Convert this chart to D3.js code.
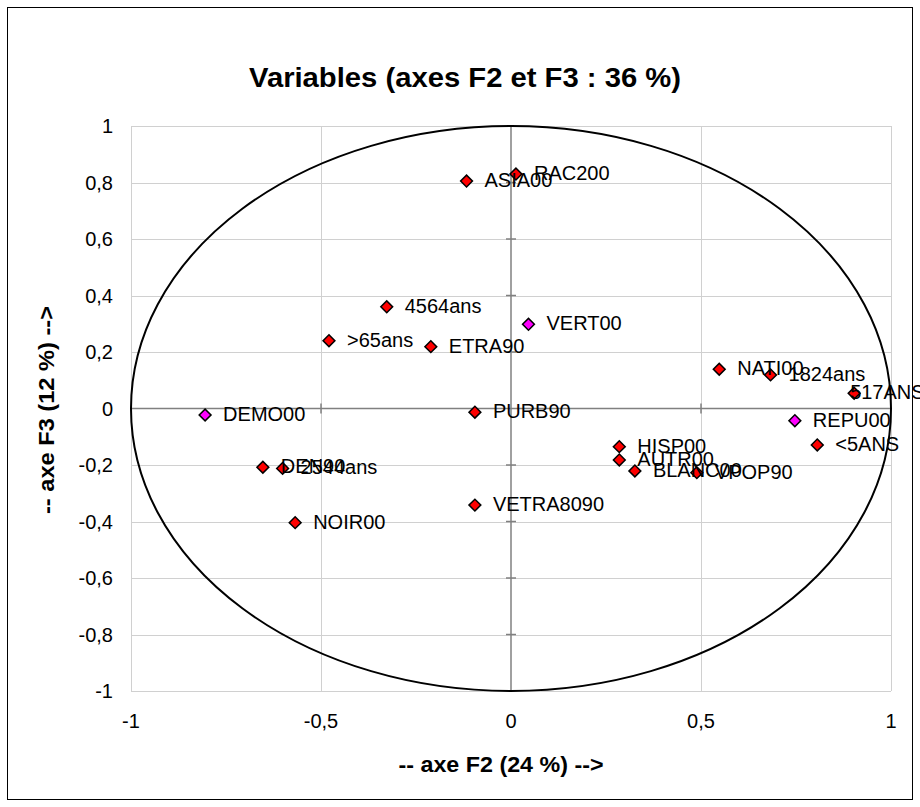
<!DOCTYPE html>
<html>
<head>
<meta charset="utf-8">
<script src="https://cdnjs.cloudflare.com/ajax/libs/d3/7.8.5/d3.min.js"></script>
<style>
  body { margin: 0; background: #fff; }
  text { font-family: "Liberation Sans", Arial, sans-serif; }
</style>
</head>
<body>
<div id="chart"></div>
<script>
// variables projetees sur F2 / F3
const labels = ['RAC200', 'ASIA00', '4564ans', '>65ans', 'ETRA90', 'PURB90', 'VERT00',
    'DEMO00', 'DEN90', '2544ans', 'NOIR00', 'VETRA8090', 'NATI00', '1824ans', '517ANS',
    'REPU00', '<5ANS', 'HISP00', 'AUTR00', 'BLANC00', 'VPOP90'];
const axeF2 = [0.013, -0.117, -0.327, -0.479, -0.211, -0.095, 0.046,
    -0.805, -0.653, -0.601, -0.568, -0.095, 0.548, 0.683, 0.903,
    0.747, 0.806, 0.285, 0.285, 0.326, 0.489];
const axeF3 = [0.830, 0.805, 0.360, 0.240, 0.219, -0.013, 0.298,
    -0.023, -0.208, -0.212, -0.404, -0.342, 0.139, 0.119, 0.054,
    -0.043, -0.129, -0.135, -0.182, -0.221, -0.227];
// 'sup' = variables supplementaires
const groups = ['act', 'act', 'act', 'act', 'act', 'act', 'sup',
    'sup', 'act', 'act', 'act', 'act', 'act', 'act', 'act',
    'sup', 'act', 'act', 'act', 'act', 'act'];
const xTicks = [-1, -0.5, 0, 0.5, 1];
const yTicks = [-1, -0.8, -0.6, -0.4, -0.2, 0, 0.2, 0.4, 0.6, 0.8, 1];

const width = 920, height = 807;
const margin = {top: 126, right: 29, bottom: 116, left: 131};

const svg = d3.select('#chart')
    .append('svg')
    .attr('width', width)
    .attr('height', height);

svg.append('rect')
    .attr('x', 7.5).attr('y', 7.5)
    .attr('width', 905).attr('height', 792)
    .attr('fill', '#fff')
    .attr('stroke', '#000')
    .attr('stroke-width', 1);

const x = d3.scaleLinear().domain([-1, 1]).range([margin.left, width - margin.right]);
const y = d3.scaleLinear().domain([-1, 1]).range([height - margin.bottom, margin.top]);

const fr = d3.formatLocale({decimal: ',', thousands: ' ', grouping: [3], currency: ['', ''], minus: '-'});
const fmt = fr.format('~g');

// grille
const grid = svg.append('g').attr('stroke', '#d0d0d0').attr('stroke-width', 1);
grid.selectAll('.gx')
    .data(xTicks.filter((d) => d !== 0))
    .enter().append('line')
    .attr('x1', (d) => Math.round(x(d)) + 0.5).attr('x2', (d) => Math.round(x(d)) + 0.5)
    .attr('y1', y(-1)).attr('y2', y(1));
grid.selectAll('.gy')
    .data(yTicks.filter((d) => d !== 0))
    .enter().append('line')
    .attr('y1', (d) => Math.round(y(d)) + 0.5).attr('y2', (d) => Math.round(y(d)) + 0.5)
    .attr('x1', x(-1)).attr('x2', x(1));

// axes centraux
const axes = svg.append('g').attr('stroke', '#808080').attr('stroke-width', 1.5);
axes.append('line')
    .attr('x1', x(-1)).attr('x2', x(1))
    .attr('y1', y(0)).attr('y2', y(0));
axes.append('line')
    .attr('x1', x(0)).attr('x2', x(0))
    .attr('y1', y(-1)).attr('y2', y(1));
axes.selectAll('.tx')
    .data(xTicks.filter((d) => Math.abs(d) !== 1 && d !== 0))
    .enter().append('line')
    .attr('x1', (d) => x(d)).attr('x2', (d) => x(d))
    .attr('y1', y(0) - 5).attr('y2', y(0) + 5);
axes.selectAll('.ty')
    .data(yTicks.filter((d) => Math.abs(d) !== 1 && d !== 0))
    .enter().append('line')
    .attr('y1', (d) => y(d)).attr('y2', (d) => y(d))
    .attr('x1', x(0) - 5).attr('x2', x(0) + 5);

// cercle des correlations
svg.append('ellipse')
    .attr('cx', x(0)).attr('cy', y(0))
    .attr('rx', x(1) - x(0)).attr('ry', y(0) - y(1))
    .attr('fill', 'none')
    .attr('stroke', '#000')
    .attr('stroke-width', 2);

// etiquettes des graduations
svg.append('g').selectAll('text')
    .data(xTicks)
    .enter().append('text')
    .attr('x', (d) => x(d))
    .attr('y', y(-1) + 37)
    .attr('text-anchor', 'middle')
    .attr('font-size', 20)
    .attr('fill', '#000')
    .text((d) => fmt(d));
svg.append('g').selectAll('text')
    .data(yTicks)
    .enter().append('text')
    .attr('x', margin.left - 18)
    .attr('y', (d) => y(d) + 7)
    .attr('text-anchor', 'end')
    .attr('font-size', 20)
    .attr('fill', '#000')
    .text((d) => fmt(d));

// points
const pts = labels.map((l, i) => ({label: l, f2: axeF2[i], f3: axeF3[i], g: groups[i]}));
const color = d3.scaleOrdinal().domain(['act', 'sup']).range(['#ff0000', '#ff00ff']);
const diamond = d3.symbol().type(d3.symbolSquare).size(70);

svg.append('g').selectAll('path')
    .data(pts)
    .enter().append('path')
    .attr('d', diamond)
    .attr('transform', (d) => `translate(${x(d.f2)},${y(d.f3)}) rotate(45)`)
    .attr('fill', (d) => color(d.g))
    .attr('stroke', '#000')
    .attr('stroke-width', 1.5);

// l'etiquette de 517ANS a ete deplacee a la main dans l'original
const labelShift = {'517ANS': -22};
svg.append('g').selectAll('text')
    .data(pts)
    .enter().append('text')
    .attr('x', (d) => x(d.f2) + 18 + (labelShift[d.label] || 0))
    .attr('y', (d) => y(d.f3) + 6)
    .attr('font-size', 20)
    .attr('fill', '#000')
    .text((d) => d.label);

// titres
svg.append('text')
    .attr('x', 465).attr('y', 87)
    .attr('text-anchor', 'middle')
    .attr('font-size', 27)
    .attr('font-weight', 'bold')
    .attr('textLength', 432)
    .attr('lengthAdjust', 'spacingAndGlyphs')
    .text('Variables (axes F2 et F3 : 36 %)');
svg.append('text')
    .attr('x', 501).attr('y', 772)
    .attr('text-anchor', 'middle')
    .attr('font-size', 22)
    .attr('font-weight', 'bold')
    .attr('textLength', 205)
    .attr('lengthAdjust', 'spacingAndGlyphs')
    .text('-- axe F2 (24 %) -->');
svg.append('text')
    .attr('transform', 'translate(54,410) rotate(-90)')
    .attr('text-anchor', 'middle')
    .attr('font-size', 22)
    .attr('font-weight', 'bold')
    .attr('textLength', 208)
    .attr('lengthAdjust', 'spacingAndGlyphs')
    .text('-- axe F3 (12 %) -->');
</script>
</body>
</html>
